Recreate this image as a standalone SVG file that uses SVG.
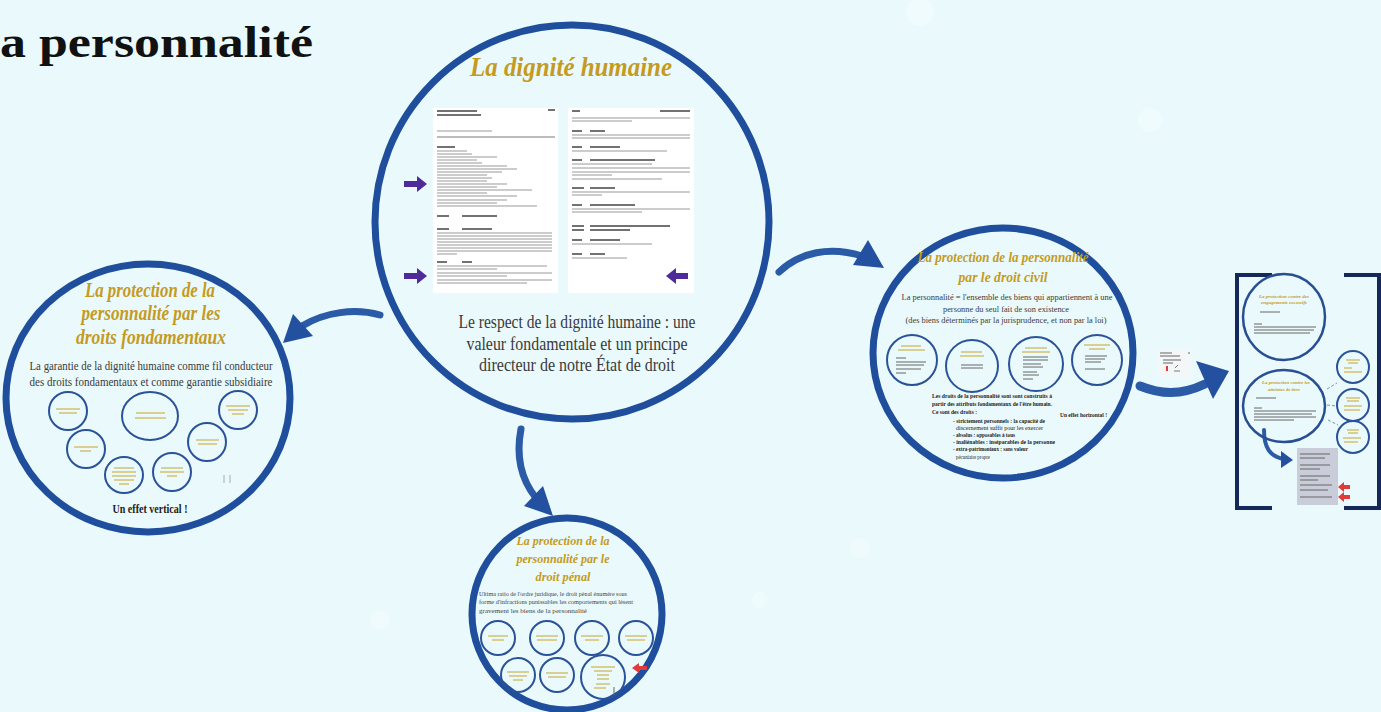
<svg xmlns="http://www.w3.org/2000/svg" width="1381" height="712" viewBox="0 0 1381 712">
<style>
.bg{fill:#eaf9fb}
.ring{fill:none;stroke:#1f4e9c;stroke-width:7}
.ring2{fill:none;stroke:#2a5299;stroke-width:2}
.ring3{fill:none;stroke:#284e93;stroke-width:2.5}
.ttl{font-family:"Liberation Serif","DejaVu Serif",serif;font-weight:bold;font-style:italic;fill:#c49b22;text-anchor:middle}
.body{font-family:"Liberation Serif","DejaVu Serif",serif;fill:#3a3a3a;text-anchor:middle}
.bold{font-family:"Liberation Serif","DejaVu Serif",serif;font-weight:bold;fill:#222}
.gl{fill:none;stroke:#c9a52c;stroke-width:1.1}
.dl{fill:none;stroke:#666;stroke-width:1}
.doc{fill:#ffffff}
.txl{fill:none;stroke:#9a9a9a;stroke-width:1.1}
.txd{fill:none;stroke:#444;stroke-width:1.5}
.conn{fill:none;stroke:#2b5aa6;stroke-linecap:round}
.head{fill:#2450a0}
.purple{fill:#4f2a9a}
.red{fill:#e03a3a}
.brk{fill:none;stroke:#15285a;stroke-width:4}
</style>
<rect class="bg" x="0" y="0" width="1381" height="712"/>
<g opacity="0.35" fill="#f8fefe">
<circle cx="920" cy="12" r="14"/><circle cx="860" cy="548" r="10"/><circle cx="760" cy="600" r="8"/><circle cx="1150" cy="120" r="12"/><circle cx="380" cy="620" r="10"/>
</g>

<text x="0" y="57" font-family="'Liberation Serif','DejaVu Serif',serif" font-weight="bold" font-size="44" fill="#111" textLength="313" lengthAdjust="spacingAndGlyphs">a personnalité</text>

<g id="connectors">
<path class="conn" stroke-width="7" d="M380 315 C355 308 325 312 302 326"/>
<polygon class="head" points="283,343 293,314 313,336"/>
<path class="conn" stroke-width="7" d="M521 429 C516 455 520 478 536 498"/>
<polygon class="head" points="553,516 524,506 543,486"/>
<path class="conn" stroke-width="7" d="M779 272 C800 252 830 246 862 256"/>
<polygon class="head" points="884,268 868,240 853,265"/>
<path class="conn" stroke-width="9" d="M1140 386 C1160 394 1180 396 1205 384"/>
<polygon class="head" points="1229,371 1196,361 1213,399"/>
<path class="conn" stroke-width="4" d="M1264 430 C1264 448 1270 456 1283 459"/>
<polygon class="head" points="1293,460 1281,451 1281,468"/>
<path fill="none" stroke="#7a8fb8" stroke-width="1" stroke-dasharray="3,2" d="M1327 389 L1337 383 M1327 405 L1337 406 M1328 420 L1338 425"/>
</g>

<g id="node-dignite">
<circle class="ring" cx="572" cy="222" r="197"/>
<text class="ttl" x="571" y="76" font-size="27" textLength="202" lengthAdjust="spacingAndGlyphs">La dignité humaine</text>
<rect class="doc" x="433" y="108" width="125" height="185"/>
<rect class="doc" x="568" y="108" width="126" height="185"/>
<path class="txd" d="M437 111h40M437 115h44M548 110h7M437 147h18M437 216h12M462 216h35M437 229h12M462 229h30M437 262h10M462 262h10"/>
<path class="txl" d="M437 131h55M437 151h30M437 154h35M437 157h60M437 160h40M437 163h45M437 166h70M437 169h80M437 172h65M437 175h50M437 178h55M437 181h50M437 184h70M437 187h60M437 190h95M437 193h50M437 196h80M437 200h70M437 203h60M437 206h100M437 233h115M437 236h115M437 239h115M437 242h115M437 245h115M437 248h115M437 251h115M437 254h20M437 266h110M437 269h60M437 273h115M437 276h70M437 280h115M437 283h90"/>
<path stroke="#555" stroke-width="0.8" d="M437 137h118"/>
<path class="txd" d="M572 111h8M660 111h30M572 131h10M590 131h15M572 147h10M590 147h30M572 160h10M590 160h65M572 188h12M590 188h25M572 205h10M590 205h45M572 226h12M590 226h80M572 230h12M590 230h40M572 240h10M590 240h30M572 254h10M590 254h15"/>
<path class="txl" d="M572 118h118M572 121h60M572 135h118M572 138h118M572 151h95M572 164h80M572 168h118M572 172h118M572 175h40M572 179h90M572 192h118M572 195h30M572 209h118M572 212h70M572 244h80M572 258h55"/>
<path class="purple" d="M404 181h13v-5l10 8l-10 8v-5h-13z"/>
<path class="purple" d="M404 273h13v-5l10 8l-10 8v-5h-13z"/>
<path class="purple" d="M688 273h-12v-5l-10 8l10 8v-5h12z"/>
<text class="body" x="577" y="328" font-size="18" textLength="237" lengthAdjust="spacingAndGlyphs">Le respect de la dignité humaine : une</text>
<text class="body" x="577" y="350" font-size="18" textLength="221" lengthAdjust="spacingAndGlyphs">valeur fondamentale et un principe</text>
<text class="body" x="577" y="371" font-size="18" textLength="196" lengthAdjust="spacingAndGlyphs">directeur de notre État de droit</text>
</g>

<g id="node-droits-fondamentaux">
<ellipse class="ring" cx="148" cy="398" rx="142" ry="134"/>
<text class="ttl" x="150" y="297" font-size="20" textLength="130" lengthAdjust="spacingAndGlyphs">La protection de la</text>
<text class="ttl" x="151" y="320" font-size="20" textLength="139" lengthAdjust="spacingAndGlyphs">personnalité par les</text>
<text class="ttl" x="151" y="344" font-size="20" textLength="150" lengthAdjust="spacingAndGlyphs">droits fondamentaux</text>
<text class="body" x="151" y="370" font-size="13" textLength="243" lengthAdjust="spacingAndGlyphs">La garantie de la dignité humaine comme fil conducteur</text>
<text class="body" x="151" y="386" font-size="13" textLength="243" lengthAdjust="spacingAndGlyphs">des droits fondamentaux et comme garantie subsidiaire</text>
<ellipse class="ring2" cx="68" cy="411" rx="19" ry="19"/>
<ellipse class="ring2" cx="150" cy="416" rx="28" ry="24"/>
<ellipse class="ring2" cx="238" cy="410" rx="19" ry="19"/>
<ellipse class="ring2" cx="86" cy="449" rx="19" ry="19"/>
<ellipse class="ring2" cx="207" cy="442" rx="19" ry="19"/>
<ellipse class="ring2" cx="124" cy="475" rx="19" ry="18"/>
<ellipse class="ring2" cx="172" cy="472" rx="19" ry="19"/>
<path class="gl" d="M56 409h24M59 413h18M136 413h29M135 418h31M226 406h24M228 410h20M232 414h12M74 447h24M80 451h11M196 440h23M198 444h19M114 468h20M112 472h24M112 476h24M114 480h20M119 484h10M161 468h22M160 472h24M167 476h10"/>
<path stroke="#999" stroke-width="0.8" d="M224 475v8M230 475v8"/>
<text class="bold" x="150" y="513" font-size="11.5" text-anchor="middle" textLength="75" lengthAdjust="spacingAndGlyphs">Un effet vertical !</text>
</g>

<g id="node-droit-civil">
<ellipse class="ring" cx="1003" cy="353" rx="130" ry="125"/>
<text class="ttl" x="1003" y="262" font-size="15" textLength="171" lengthAdjust="spacingAndGlyphs">La protection de la personnalité</text>
<text class="ttl" x="1003" y="282" font-size="15" textLength="89" lengthAdjust="spacingAndGlyphs">par le droit civil</text>
<text class="body" x="1007" y="300" font-size="9" textLength="211" lengthAdjust="spacingAndGlyphs">La personnalité = l'ensemble des biens qui appartiennent à une</text>
<text class="body" x="1006" y="312" font-size="9" textLength="126" lengthAdjust="spacingAndGlyphs">personne du seul fait de son existence</text>
<text class="body" x="1006" y="323" font-size="9" textLength="201" lengthAdjust="spacingAndGlyphs">(des biens déterminés par la jurisprudence, et non par la loi)</text>
<ellipse class="ring2" cx="912" cy="360" rx="25" ry="25"/>
<ellipse class="ring2" cx="972" cy="366" rx="26" ry="26"/>
<ellipse class="ring2" cx="1036" cy="364" rx="27" ry="27"/>
<ellipse class="ring2" cx="1097" cy="360" rx="25" ry="25"/>
<path class="gl" d="M901 346h20M898 350h27M961 352h21M960 356h24M1025 348h22M1022 352h28M1084 345h26M1089 349h16"/>
<path class="dl" stroke-width="0.8" d="M896 358h10M896 362h30M896 365h28M896 369h25M896 373h10M961 365h22M961 368h22M1023 357h25M1023 360h25M1023 364h18M1023 367h20M1023 372h14M1023 375h16M1023 379h10M1085 356h22M1085 359h20M1085 362h16M1085 369h20"/>
<g class="bold" font-size="7">
<text x="932" y="398" textLength="120" lengthAdjust="spacingAndGlyphs">Les droits de la personnalité sont sont construits à</text>
<text x="932" y="406" textLength="120" lengthAdjust="spacingAndGlyphs">partir des attributs fondamentaux de l'être humain.</text>
<text x="932" y="414" textLength="45" lengthAdjust="spacingAndGlyphs">Ce sont des droits :</text>
<text x="953" y="423" textLength="92" lengthAdjust="spacingAndGlyphs">- strictement personnels : la capacité de</text>
<text x="956" y="430" font-weight="normal" textLength="87" lengthAdjust="spacingAndGlyphs">discernement suffit pour les exercer</text>
<text x="953" y="437" textLength="62" lengthAdjust="spacingAndGlyphs">- absolus : opposables à tous</text>
<text x="953" y="444" textLength="102" lengthAdjust="spacingAndGlyphs">- inaliénables : inséparables de la personne</text>
<text x="953" y="451" textLength="75" lengthAdjust="spacingAndGlyphs">- extra-patrimoniaux : sans valeur</text>
<text x="956" y="459" font-weight="normal" textLength="34" lengthAdjust="spacingAndGlyphs">pécuniaire propre</text>
<text x="1060" y="417" textLength="47" lengthAdjust="spacingAndGlyphs">Un effet horizontal !</text>
</g>
</g>

<g id="node-droit-penal">
<ellipse class="ring" cx="567" cy="614" rx="95" ry="96"/>
<text class="ttl" x="563" y="545" font-size="13" textLength="93" lengthAdjust="spacingAndGlyphs">La protection de la</text>
<text class="ttl" x="563" y="563" font-size="13" textLength="93" lengthAdjust="spacingAndGlyphs">personnalité par le</text>
<text class="ttl" x="563" y="581" font-size="13" textLength="55" lengthAdjust="spacingAndGlyphs">droit pénal</text>
<g font-family="'Liberation Serif','DejaVu Serif',serif" font-size="6.5" fill="#444">
<text x="479" y="596" textLength="148" lengthAdjust="spacingAndGlyphs">Ultima ratio de l'ordre juridique, le droit pénal énumère sous</text>
<text x="479" y="604" textLength="154" lengthAdjust="spacingAndGlyphs">forme d'infractions punissables les comportements qui lèsent</text>
<text x="479" y="613" textLength="108" lengthAdjust="spacingAndGlyphs">gravement les biens de la personnalité</text>
</g>
<ellipse class="ring2" cx="498" cy="638" rx="17" ry="17"/>
<ellipse class="ring2" cx="547" cy="638" rx="17" ry="17"/>
<ellipse class="ring2" cx="592" cy="638" rx="17" ry="17"/>
<ellipse class="ring2" cx="636" cy="638" rx="17" ry="17"/>
<ellipse class="ring2" cx="518" cy="675" rx="17" ry="17"/>
<ellipse class="ring2" cx="557" cy="675" rx="17" ry="17"/>
<ellipse class="ring2" cx="603" cy="677" rx="22" ry="22"/>
<path class="gl" d="M488 636h20M492 640h12M536 636h22M537 640h20M581 636h22M585 640h14M625 636h22M627 640h18M507 672h22M509 676h18M513 680h10M546 673h22M548 677h18M591 667h24M594 671h18M597 675h12M597 679h12M596 684h14M594 688h12"/>
<path class="dl" stroke-width="0.8" d="M614 687v8"/>
<path class="red" d="M647 666h-8v-3l-7 5l7 5v-3h8z"/>
</g>

<g id="node-art27-28">
<path class="brk" d="M1272 275H1237V508H1272"/>
<path class="brk" d="M1344 275H1379V508H1344"/>
<ellipse class="ring3" cx="1284" cy="317" rx="41" ry="43"/>
<ellipse class="ring3" cx="1284" cy="406" rx="41" ry="36"/>
<text class="ttl" x="1284" y="298" font-size="5" font-style="normal" font-weight="normal" textLength="50" lengthAdjust="spacingAndGlyphs">La protection contre des</text>
<text class="ttl" x="1284" y="304" font-size="5" font-style="normal" font-weight="normal" textLength="46" lengthAdjust="spacingAndGlyphs">engagements excessifs</text>
<text class="ttl" x="1286" y="384" font-size="5" font-style="normal" font-weight="normal" textLength="48" lengthAdjust="spacingAndGlyphs">La protection contre les</text>
<text class="ttl" x="1284" y="391" font-size="5" font-style="normal" font-weight="normal" textLength="32" lengthAdjust="spacingAndGlyphs">atteintes de tiers</text>
<path class="dl" stroke-width="0.7" d="M1260 312h20M1254 324h8M1254 327h62M1254 330h60M1254 333h56M1256 398h20M1254 408h8M1254 411h62M1254 414h58M1254 417h62M1254 420h40"/>
<ellipse class="ring2" cx="1353" cy="367" rx="16" ry="16"/>
<ellipse class="ring2" cx="1353" cy="405" rx="16" ry="16"/>
<ellipse class="ring2" cx="1353" cy="437" rx="16" ry="16"/>
<path class="gl" stroke-width="0.8" d="M1346 360h14M1348 363h10M1344 368h8M1344 372h18M1346 398h14M1347 401h12M1344 406h18M1344 410h16M1347 430h12M1348 433h10M1343 438h18M1344 442h14"/>
<rect x="1297" y="448" width="41" height="57" fill="#c9cdd9"/>
<path class="dl" stroke="#888" stroke-width="0.7" d="M1300 454h30M1300 458h25M1300 465h30M1300 469h20M1300 476h30M1300 480h18M1300 485h32M1300 490h28M1300 497h32"/>
<path class="red" d="M1350 485h-6v-3l-6 5l6 5v-3h6z"/>
<path class="red" d="M1350 495h-6v-3l-6 5l6 5v-3h6z"/>
</g>

<g id="node-thumbnail">
<rect x="1158" y="349" width="34" height="29" fill="#f4f7f8"/>
<path class="dl" stroke-width="0.6" d="M1160 353h12M1188 353h2M1160 356h20M1163 360h18M1163 363h10"/>
<path stroke="#e03a3a" stroke-width="2" d="M1167 366v5"/>
<path stroke="#555" stroke-width="0.8" d="M1175 368l3 -3M1174 371h6"/>
</g>
</svg>
